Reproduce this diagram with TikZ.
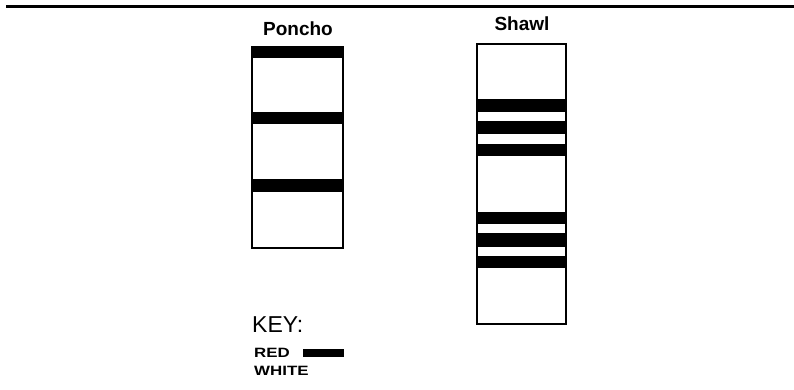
\documentclass[tikz,border=0pt]{standalone}
\usepackage{fontspec}
\setmainfont{Liberation Sans}
\newfontfamily\widefont[FakeStretch=1.25]{Liberation Sans}

\begin{document}
\begin{tikzpicture}[x=1pt,y=-1pt,
  title/.style={font=\bfseries\fontsize{19}{19}\selectfont},
  keylabel/.style={anchor=west,inner sep=0pt,font=\widefont\bfseries\fontsize{13.5}{13.5}\selectfont},
  band/.style={fill=black},
  cloth/.style={draw,line width=1.5pt}]
  \useasboundingbox (0,0) rectangle (794,390);
  \draw[line width=3pt] (6,7) -- (794,7);
  % poncho
  \node[title] (poncho) at (298,29) {Poncho};
  \foreach \t/\b in {47/58,112/124,179/192}
    \fill[band] (252,\t) rectangle (343,\b);
  \draw[cloth] (252,47) rectangle (343,248);
  % shawl
  \node[title] (shawl) at (522,24) {Shawl};
  \foreach \t/\b in {99/112,121/134,144/156,212/224,233/247,256/268}
    \fill[band] (477,\t) rectangle (566,\b);
  \draw[cloth] (477,44) rectangle (566,324);
  % key
  \node[anchor=west,inner sep=0pt,font=\fontsize{23}{23}\selectfont] (key) at (252,325) {KEY:};
  \node[keylabel] (red) at (254,352.5) {RED};
  \node[keylabel] (white) at (254,371) {WHITE};
  \fill (303,349) rectangle (344,357);
\end{tikzpicture}
\end{document}
